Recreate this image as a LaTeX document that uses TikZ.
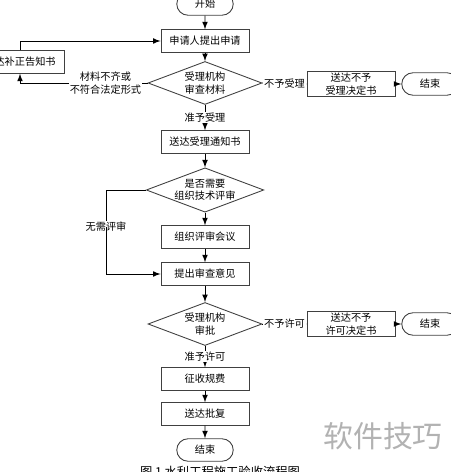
\documentclass[tikz,border=0pt]{standalone}
\usepackage{fontspec}
\newfontfamily\cjk{Noto Sans CJK SC}
\usepackage{tikz}
\usetikzlibrary{shapes, arrows, positioning, calc}

\begin{document}
\begin{tikzpicture}[x=0.02cm, y=-0.02cm, >=latex, line width=0.5pt,
		every node/.style={font=\cjk\fontsize{5.8}{7}\selectfont},
		box/.style={rectangle, draw=black!75, minimum width=1.76cm, minimum height=0.45cm, inner sep=1pt},
		decide/.style={diamond, draw=black!75, aspect=2.65, minimum width=2.28cm, minimum height=0.86cm, inner sep=0pt, align=center},
		term/.style={rounded rectangle, draw=black!75, minimum width=1.2cm, minimum height=0.45cm, inner sep=1pt},
		lbl/.style={fill=white, inner sep=0.5pt, align=center}]
			\useasboundingbox (0,0) rectangle (450,472);
			% Main column
			\node[term] (start) at (205, 4) {开始};
			\node[box] (apply) at (205, 41) {申请人提出申请};
			\node[decide] (check) at (205, 83) {受理机构\\审查材料};
			\node[box] (notify) at (205, 142) {送达受理通知书};
			\node[decide] (review) at (205, 190) {是否需要\\组织技术评审};
			\node[box] (meeting) at (205, 237) {组织评审会议};
			\node[box] (opinion) at (205, 274) {提出审查意见};
			\node[decide] (approve) at (205, 324) {受理机构\\审批};
			\node[box] (fee) at (205, 379) {征收规费};
			\node[box] (reply) at (205, 414) {送达批复};
			\node[term] (end3) at (205, 450) {结束};
			
			% Side nodes
			\node[box] (supply) at (20, 62) {送达补正告知书};
			\node[box, align=center] (reject1) at (351, 84) {送达不予\\受理决定书};
			\node[term] (end1) at (430, 84) {结束};
			\node[box, align=center] (reject2) at (351, 324) {送达不予\\许可决定书};
			\node[term] (end2) at (430, 324) {结束};
			
			% Connections
			\draw[->] (start) -- (apply);
			\draw[->] (apply) -- (check);
			\draw[->] (check.west) -- (20, 83) node[pos=0.33, lbl] {材料不齐或\\不符合法定形式} -- (supply.south);
			\draw[->] (supply.north) |- (apply.west);
			\draw[->] (check.east) -- (reject1.west) node[midway, lbl] {不予受理};
			\draw[->] (reject1) -- (end1);
			\draw[->] (check.south) -- (notify.north) node[midway, lbl] {准予受理};
			\draw[->] (notify) -- (review);
			\draw[->] (review) -- (meeting);
			\draw[->] (meeting) -- (opinion);
			\draw (review.west) -| (106, 227) node[lbl] {无需评审};
			\draw[->] (106, 227) |- (opinion.west);
			\draw[->] (opinion) -- (approve);
			\draw[->] (approve.east) -- (reject2.west) node[midway, lbl] {不予许可};
			\draw[->] (reject2) -- (end2);
			\draw[->] (approve.south) -- (fee.north) node[midway, lbl] {准予许可};
			\draw[->] (fee) -- (reply);
			\draw[->] (reply) -- (end3);
			
			\node[font=\cjk\fontsize{17}{20}\selectfont, text=black!30] (mark) at (383, 436) {软件技巧};
			\node[font=\cjk\fontsize{7}{8}\selectfont] (caption) at (220, 472) {图 1 水利工程施工验收流程图};
		\end{tikzpicture}
\end{document}
